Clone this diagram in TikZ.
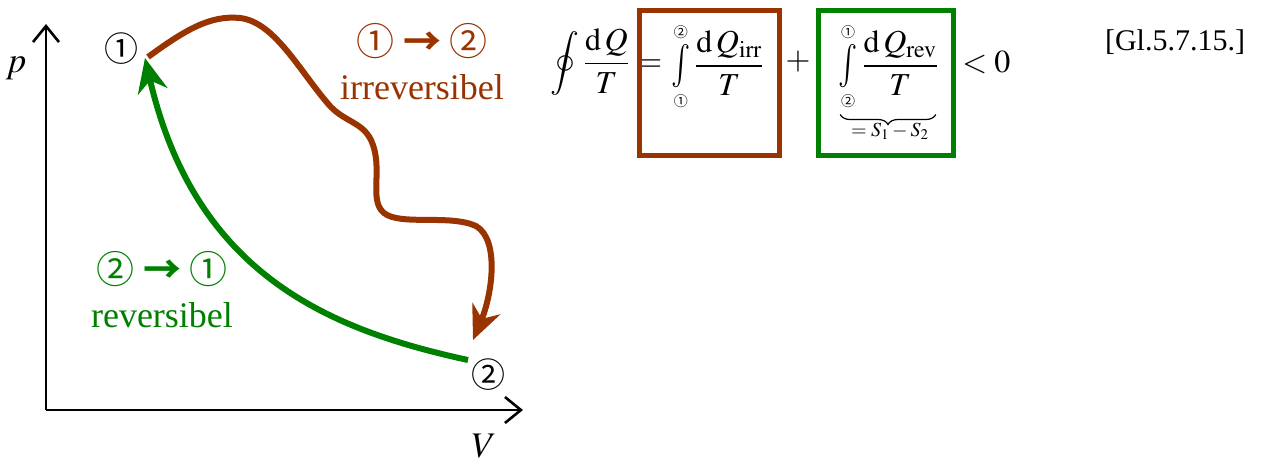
\documentclass[tikz,border=0pt]{standalone}
\usepackage{amsmath}
\usepackage{mathptmx}
\usepackage{fontspec}
\setmainfont{Liberation Serif}
\newfontfamily\symfont{Noto Sans CJK SC}
\usetikzlibrary{arrows.meta, positioning, decorations.pathreplacing}
\definecolor{irrbrown}{RGB}{153,51,0}
\definecolor{revgreen}{RGB}{0,128,0}
\newcommand{\cone}{\text{\symfont\scriptsize ①}}
\newcommand{\ctwo}{\text{\symfont\scriptsize ②}}
\newcommand{\tallint}{\mathop{\vcenter{\hbox{\scalebox{1}[1.35]{$\int$}}}}}
\newcommand{\stepsym}[2]{{\symfont\fontsize{19}{22}\selectfont #1 {\bfseries →} #2}}
\tikzset{
  axis/.style={line width=1.3pt, color=black,
    -{Straight Barb[length=8pt,width=13pt,line width=1.3pt]}},
  irrpath/.style={line width=3pt, color=irrbrown,
    -{Stealth[length=17pt,width=15pt]}},
  revpath/.style={line width=3pt, color=revgreen,
    -{Stealth[length=17pt,width=15pt]}},
  ptlabel/.style={font=\symfont\fontsize{17}{19}\selectfont},
  axlabel/.style={font=\fontsize{18}{20}\selectfont},
  steplabel/.style={align=center, font=\fontsize{18}{22}\selectfont},
  irrbox/.style={rectangle, draw=irrbrown, line width=2.5pt,
    minimum width=70pt, minimum height=72.5pt},
  revbox/.style={rectangle, draw=revgreen, line width=2.5pt,
    minimum width=67.5pt, minimum height=72.5pt},
  eq/.style={inner sep=0pt, font=\fontsize{16}{19}\selectfont},
  sumbrace/.style={decorate, decoration={brace, amplitude=5pt}, line width=0.6pt}
}

\begin{document}
\begin{tikzpicture}[x=0.5pt, y=-0.5pt]
  \useasboundingbox (0,0) rectangle (1268,462);

  % axes
  \coordinate (origin) at (46,410);
  \coordinate (ptop) at (46,24);
  \coordinate (vend) at (523,410);
  \draw[axis] (origin) -- (ptop);
  \draw[axis] (origin) -- (vend);
  \node[axlabel] (plab) at (16,68) {$p$};
  \node[axlabel] (vlab) at (484,446) {$V$};

  % states
  \coordinate (s1) at (148,57);
  \coordinate (s2) at (468,360);
  \coordinate (s2in) at (473,340);
  \node[ptlabel] (s1lab) at (121,49) {①};
  \node[ptlabel] (s2lab) at (488,375) {②};

  % irreversible path 1 -> 2
  \draw[irrpath] (s1) .. controls (185,30) and (210,15) .. (240,18)
    .. controls (275,22) and (300,72) .. (330,106)
    .. controls (345,122) and (362,122) .. (371,140)
    .. controls (384,168) and (368,200) .. (384,213)
    .. controls (400,226) and (450,214) .. (476,226)
    .. controls (500,240) and (492,295) .. (s2in);

  % reversible path 2 -> 1
  \draw[revpath] (s2) .. controls (330,330) and (195,275) .. (145,58);

  \node[steplabel, text=irrbrown] (irrlab) at (422,62)
    {\stepsym{①}{②}\\irreversibel};
  \node[steplabel, text=revgreen] (revlab) at (162,290)
    {\stepsym{②}{①}\\reversibel};

  % equation
  \node[eq, anchor=west] (lhs) at (550,62)
    {$\displaystyle\oint\frac{\mathrm{d}\,Q}{T}=$};
  \node[irrbox] (boxirr) at (709,82.5) {};
  \node[eq] (irrint) at (718,67)
    {$\tallint\limits_{\cone}^{\ctwo}\dfrac{\mathrm{d}\,Q_{\mathrm{irr}}}{T}$};
  \node[eq] (plus) at (798,62) {$+$};
  \node[revbox] (boxrev) at (885.5,82.5) {};
  \node[eq] (revint) at (889,67)
    {$\tallint\limits_{\ctwo}^{\cone}\dfrac{\mathrm{d}\,Q_{\mathrm{rev}}}{T}$};
  \draw[sumbrace] ([xshift=-2pt,yshift=-1.5pt]revint.south east)
    -- ([xshift=1pt,yshift=-1.5pt]revint.south west);
  \node[font=\fontsize{10}{12}\selectfont] (revsum) at (890,131) {$=S_1-S_2$};
  \node[eq, anchor=west] (lt) at (962,62) {$<0$};
  \node[font=\fontsize{15}{18}\selectfont] (eqno) at (1175,42) {[Gl.5.7.15.]};
\end{tikzpicture}
\end{document}
